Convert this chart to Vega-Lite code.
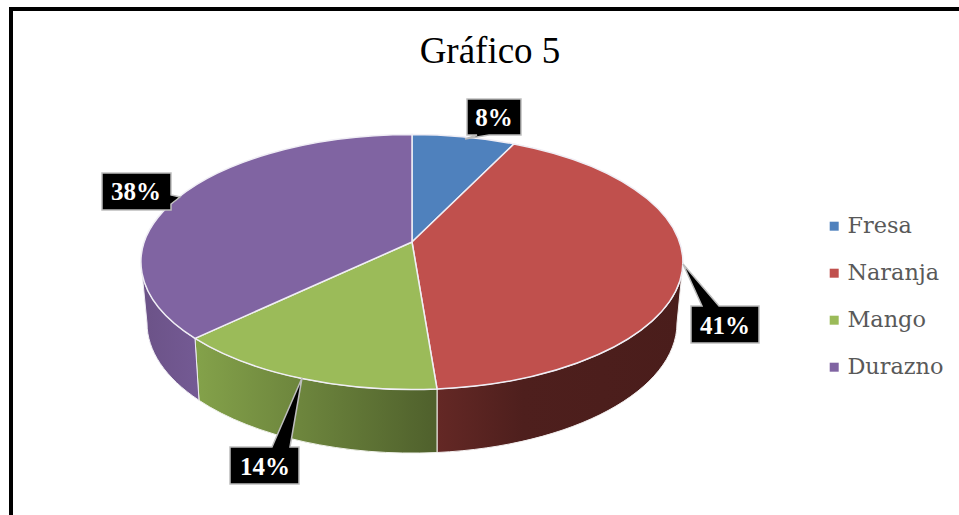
{
"$schema":"https://vega.github.io/schema/vega-lite/v6.json",
"width":959,"height":515,"padding":0,"autosize":{"type":"none"},"background":"white",
"config":{"view":{"stroke":null}},
"title":{"text":"Gráfico 5","font":"Liberation Serif","fontSize":37,"fontWeight":"normal","color":"#000000","anchor":"middle","frame":"group","baseline":"alphabetic","dx":10.5,"dy":36,"offset":-64},
"data":{"values":[
{"fruta":"Fresa","porcentaje":0.08},
{"fruta":"Naranja","porcentaje":0.41},
{"fruta":"Mango","porcentaje":0.14},
{"fruta":"Durazno","porcentaje":0.38}
]},
"layer":[
{"transform":[{"filter":"datum.fruta==='Fresa'"}],
 "mark":{"type":"point","shape":"M -468.5 300 L -468.5 -248.5 L 500 -248.5","size":4,"filled":false,"stroke":"#000000","strokeWidth":4,"opacity":1}},
{"transform":[{"filter":"datum.fruta==='Naranja'"}],
 "mark":{"type":"point","filled":true,"opacity":1,"size":4,"stroke":"#f2eeee","strokeWidth":1,
 "shape":"M 203.5 4.5 A 271 127.5 0 0 1 -42.5 131.45 L -42.5 195 A 265 130 0 0 0 197.5 65.5 Z",
 "fill":{"gradient":"linear","x1":0,"y1":0,"x2":1,"y2":0,"stops":[{"offset":0,"color":"#642825"},{"offset":0.35,"color":"#4e1f1d"},{"offset":1,"color":"#4a1d1b"}]}}},
{"transform":[{"filter":"datum.fruta==='Mango'"}],
 "mark":{"type":"point","filled":true,"opacity":1,"size":4,"stroke":"#eff1ea","strokeWidth":1,
 "shape":"M -42.5 131.45 A 271 127.5 0 0 1 -284.5 80.9 L -280.5 142.8 A 265 130 0 0 0 -42.5 195 Z",
 "fill":{"gradient":"linear","x1":0,"y1":0,"x2":1,"y2":0,"stops":[{"offset":0,"color":"#84a24a"},{"offset":1,"color":"#4f602c"}]}}},
{"transform":[{"filter":"datum.fruta==='Durazno'"}],
 "mark":{"type":"point","filled":true,"opacity":1,"size":4,"stroke":"#eeecf2","strokeWidth":1,
 "shape":"M -284.5 80.9 A 271 127.5 0 0 1 -338.5 4.5 L -332.5 65.5 A 265 130 0 0 0 -280.5 142.8 Z",
 "fill":{"gradient":"linear","x1":0,"y1":0,"x2":1,"y2":0,"stops":[{"offset":0,"color":"#6b5287"},{"offset":1,"color":"#745a94"}]}}},
{"mark":{"type":"point","filled":true,"opacity":1,"size":4,"stroke":"#f0eef5","strokeWidth":1.5},
 "encoding":{
  "color":{"field":"fruta","type":"nominal","sort":null,
   "scale":{"domain":["Fresa","Naranja","Mango","Durazno"],"range":["#4f81bd","#c0504d","#9bbb59","#8064a2"]},
   "legend":{"title":null,"orient":"none","legendX":823,"legendY":215,"symbolType":"square","symbolSize":81,"symbolStrokeWidth":0,"labelFont":"DejaVu Serif","labelFontSize":22.4,"labelColor":"#595959","labelOffset":2,"rowPadding":24,"padding":0}},
  "shape":{"field":"fruta","type":"nominal","legend":null,
   "scale":{"domain":["Fresa","Naranja","Mango","Durazno"],"range":[
    "M -67.5 -15.5 L -67.5 -123 A 271 127.5 0 0 1 34.5 -113.6 Z",
    "M -67.5 -15.5 L 34.5 -113.6 A 271 127.5 0 0 1 -42.5 131.45 Z",
    "M -67.5 -15.5 L -42.5 131.45 A 271 127.5 0 0 1 -284.5 80.9 Z",
    "M -67.5 -15.5 L -284.5 80.9 A 271 127.5 0 0 1 -67.5 -123 Z"]}}
 }},
{"mark":{"type":"point","filled":true,"opacity":1,"size":4,"fill":"#000000","stroke":"#bdbdbd","strokeWidth":1.5},
 "encoding":{
  "shape":{"field":"fruta","type":"nominal","legend":null,
   "scale":{"domain":["Fresa","Naranja","Mango","Durazno"],"range":[
    "M -12.5 -158.5 L 41.5 -158.5 L 41.5 -122.5 L 9.5 -122.5 L -14.5 -118.5 L -2.5 -122.5 L -12.5 -122.5 Z",
    "M 211.5 48.5 L 222.5 48.5 L 203.5 6.5 L 239.5 48.5 L 279.5 48.5 L 279.5 85.5 L 211.5 85.5 Z",
    "M -249.5 189.5 L -207.5 189.5 L -177.5 120.5 L -189.5 189.5 L -180.5 189.5 L -180.5 226.5 L -249.5 226.5 Z",
    "M -377.5 -84.5 L -308.5 -84.5 L -308.5 -62.5 L -299.5 -60.5 L -308.5 -53.5 L -308.5 -47.5 L -377.5 -47.5 Z"]}}
 }},
{"transform":[{"filter":"datum.fruta==='Fresa'"}],
 "mark":{"type":"text","dx":14.5,"dy":-139.5,"font":"Liberation Serif","fontWeight":"bold","fontSize":25,"fill":"#ffffff","baseline":"middle","align":"center"},
 "encoding":{"text":{"field":"porcentaje","type":"quantitative","format":".0%"}}},
{"transform":[{"filter":"datum.fruta==='Naranja'"}],
 "mark":{"type":"text","dx":245.5,"dy":68.5,"font":"Liberation Serif","fontWeight":"bold","fontSize":25,"fill":"#ffffff","baseline":"middle","align":"center"},
 "encoding":{"text":{"field":"porcentaje","type":"quantitative","format":".0%"}}},
{"transform":[{"filter":"datum.fruta==='Mango'"}],
 "mark":{"type":"text","dx":-214.5,"dy":209.5,"font":"Liberation Serif","fontWeight":"bold","fontSize":25,"fill":"#ffffff","baseline":"middle","align":"center"},
 "encoding":{"text":{"field":"porcentaje","type":"quantitative","format":".0%"}}},
{"transform":[{"filter":"datum.fruta==='Durazno'"}],
 "mark":{"type":"text","dx":-343.5,"dy":-65.5,"font":"Liberation Serif","fontWeight":"bold","fontSize":25,"fill":"#ffffff","baseline":"middle","align":"center"},
 "encoding":{"text":{"field":"porcentaje","type":"quantitative","format":".0%"}}}
],
"resolve":{"scale":{"shape":"independent"}}
}
